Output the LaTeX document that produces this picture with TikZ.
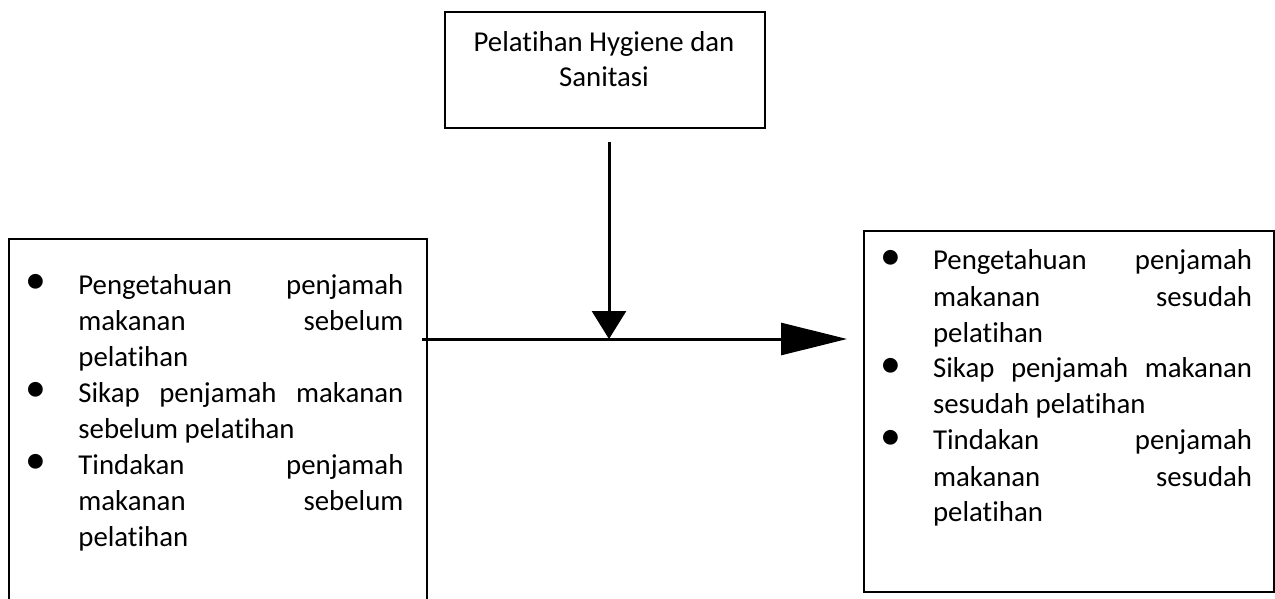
\documentclass[tikz,border=0pt]{standalone}
\usepackage{fontspec}
\setmainfont{Carlito}[RawFeature={-liga}]
\usetikzlibrary{arrows.meta}
\newcommand\bulmark{\leavevmode\llap{\makebox[42.5pt]{\raisebox{0.3pt}{\scalebox{1.45}{\textbullet}}}}}
\begin{document}
\begin{tikzpicture}[x=0.5pt,y=-0.5pt,
  boxstyle/.style={draw=black, line width=1pt, rectangle, inner sep=0pt, anchor=north west},
  txtstyle/.style={inner sep=0pt, anchor=base west, font=\fontsize{14.4}{18}\selectfont},
  conn/.style={draw=black, line width=1.5pt}]
\useasboundingbox (0,0) rectangle (1275,599);
\clip (0,0) rectangle (1275,599);
% boxes
\node (top) [boxstyle, minimum width=160pt, minimum height=58pt] at (444,11) {};
\node (L) [boxstyle, minimum width=209pt, minimum height=195pt] at (8,238) {};
\node (R) [boxstyle, minimum width=205pt, minimum height=180.5pt] at (863,230) {};
% texts
\node (toptext) [txtstyle, anchor=base] at (604,52)
  {\parbox[t]{160pt}{\centering\fontsize{14.4}{17.5}\selectfont Pelatihan Hygiene dan\\Sanitasi}};
\node (Ltext) [txtstyle] at (78,294) {\parbox[t]{162.5pt}{\parskip=0pt\parindent=0pt
\bulmark Pengetahuan\hfill penjamah\\ makanan\hfill sebelum\\ pelatihan\par
\bulmark Sikap\hfill penjamah\hfill makanan\\ sebelum pelatihan\par
\bulmark Tindakan\hfill penjamah\\ makanan\hfill sebelum\\ pelatihan}};
\node (Rtext) [txtstyle] at (932.7,270) {\parbox[t]{159.5pt}{\parskip=0pt\parindent=0pt
\bulmark Pengetahuan\hfill penjamah\\ makanan\hfill sesudah\\ pelatihan\par
\bulmark Sikap\hfill penjamah\hfill makanan\\ sesudah pelatihan\par
\bulmark Tindakan\hfill penjamah\\ makanan\hfill sesudah\\ pelatihan}};
% connectors
\coordinate (vstart) at (609,142);
\coordinate (junction) at (609,339);
\draw[conn, -{Triangle[length=14pt,width=17pt]}] (vstart) -- (junction);
\draw[conn, -{Triangle[length=33pt,width=16pt]}] ([xshift=-3pt]L.east |- junction) -- ([xshift=-8pt]R.west |- junction);
\end{tikzpicture}
\end{document}
